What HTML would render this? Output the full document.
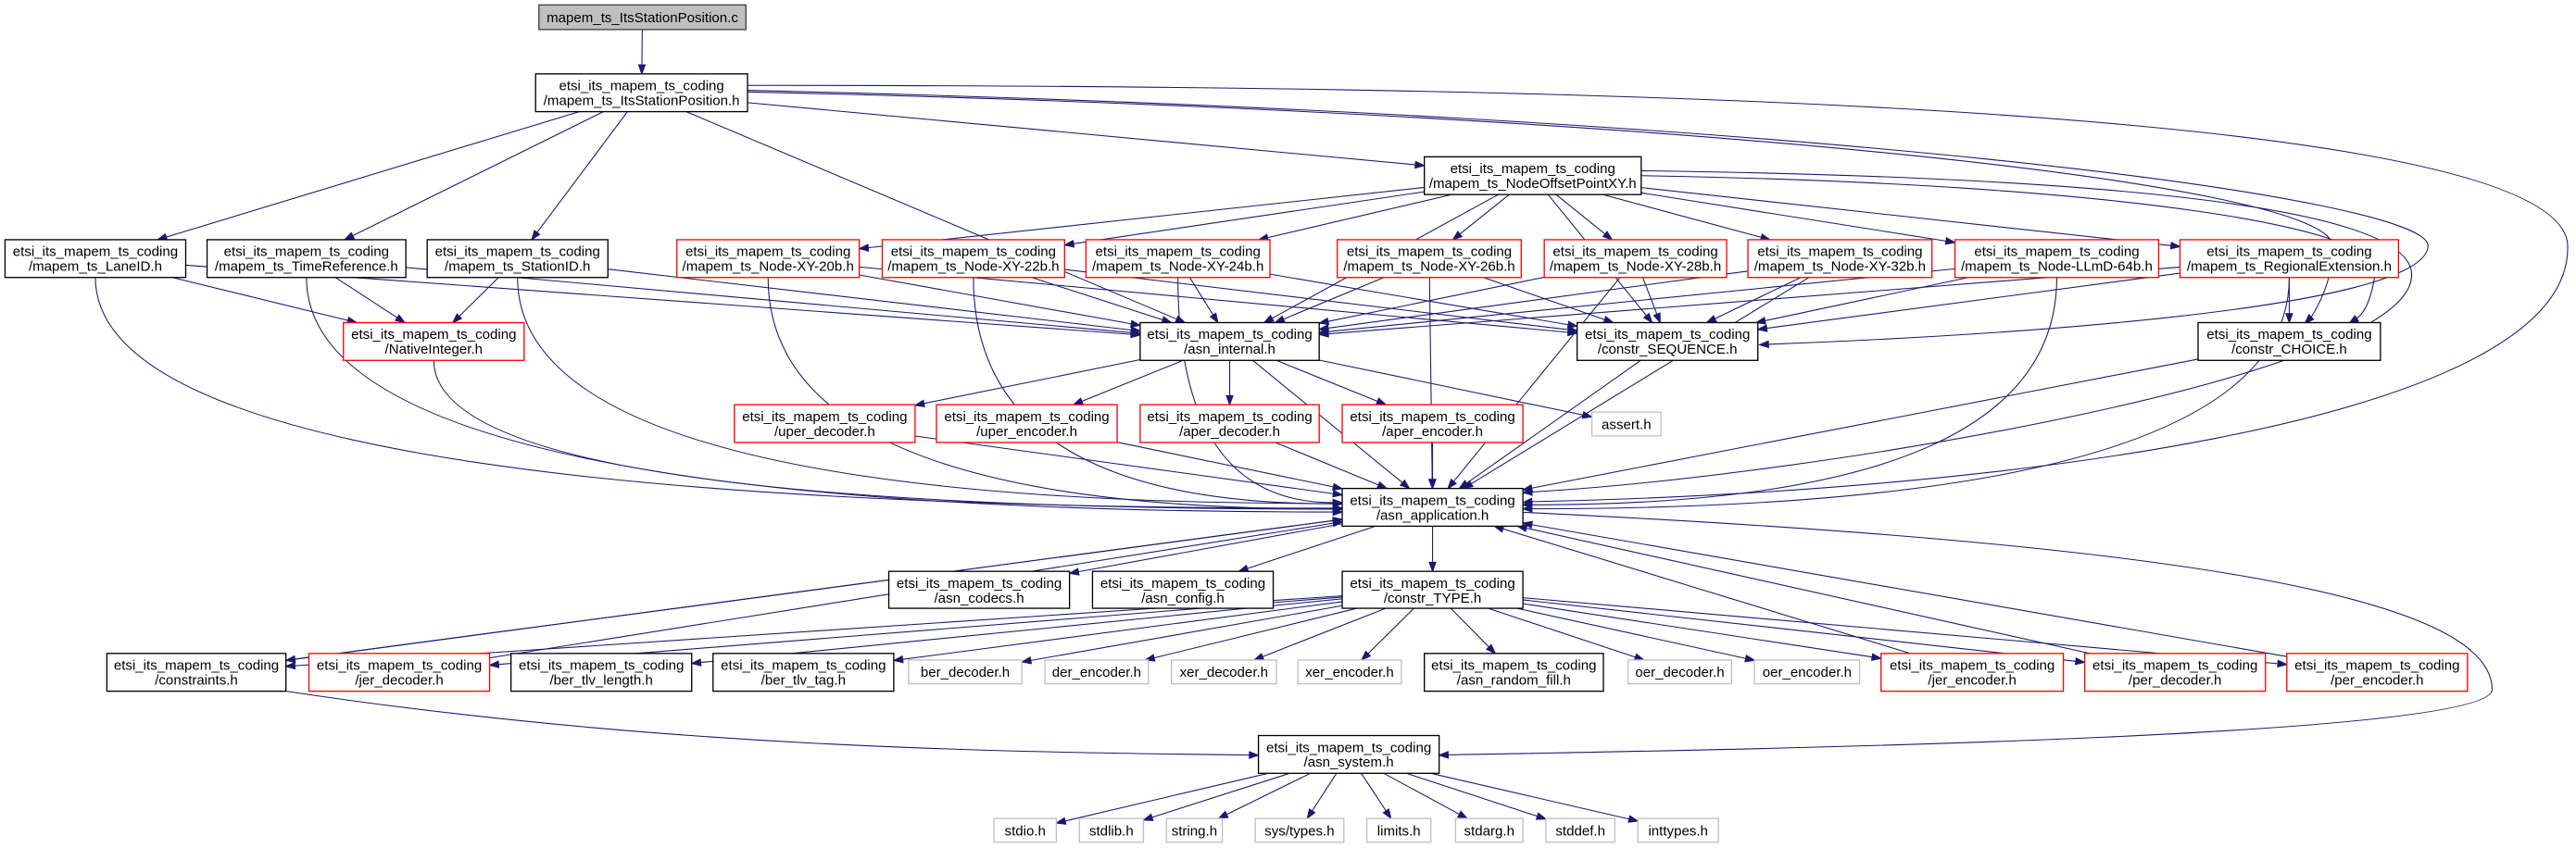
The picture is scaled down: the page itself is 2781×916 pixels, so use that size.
<!DOCTYPE html>
<html><head><meta charset="utf-8">
<style>
html,body{margin:0;padding:0;background:#fff;}
svg{display:block;}
text{font-family:"Liberation Sans",sans-serif;font-size:8.5px;fill:#000;text-anchor:middle;}
.k{fill:#fff;stroke:#000;stroke-width:0.75;}
.r{fill:#fff;stroke:#ff0000;stroke-width:0.75;}
.g{fill:#fff;stroke:#bfbfbf;stroke-width:0.75;}
.e{fill:none;stroke:#191970;stroke-width:0.6;}
.a{fill:#191970;stroke:#191970;stroke-width:0.6;}
</style></head>
<body>
<svg id="s" width="2781" height="916" viewBox="0 0 1568 516.5" xmlns="http://www.w3.org/2000/svg">
<g id="edges"></g>
<g id="nodes">
<rect id="c" x="328" y="3" width="126" height="15" style="fill:#bfbfbf;stroke:#404040;stroke-width:0.75"/><text x="391" y="13.5">mapem_ts_ItsStationPosition.c</text>

<rect id="isp" class="k" x="326" y="45" width="129" height="23"/><text x="390.5" y="55">etsi_its_mapem_ts_coding</text><text x="390.5" y="64">/mapem_ts_ItsStationPosition.h</text>

<rect id="nop" class="k" x="867" y="95.5" width="132" height="23"/><text x="933" y="105.5">etsi_its_mapem_ts_coding</text><text x="933" y="114.5">/mapem_ts_NodeOffsetPointXY.h</text>

<rect id="lane" class="k" x="3" y="146" width="110" height="23"/><text x="58" y="156">etsi_its_mapem_ts_coding</text><text x="58" y="165">/mapem_ts_LaneID.h</text>
<rect id="timeref" class="k" x="126" y="146" width="121" height="23"/><text x="186.5" y="156">etsi_its_mapem_ts_coding</text><text x="186.5" y="165">/mapem_ts_TimeReference.h</text>
<rect id="station" class="k" x="260" y="146" width="110" height="23"/><text x="315" y="156">etsi_its_mapem_ts_coding</text><text x="315" y="165">/mapem_ts_StationID.h</text>
<rect id="n20" class="r" x="412" y="146" width="111" height="23"/><text x="467.5" y="156">etsi_its_mapem_ts_coding</text><text x="467.5" y="165">/mapem_ts_Node-XY-20b.h</text>
<rect id="n22" class="r" x="537" y="146" width="111" height="23"/><text x="592.5" y="156">etsi_its_mapem_ts_coding</text><text x="592.5" y="165">/mapem_ts_Node-XY-22b.h</text>
<rect id="n24" class="r" x="661" y="146" width="112" height="23"/><text x="717" y="156">etsi_its_mapem_ts_coding</text><text x="717" y="165">/mapem_ts_Node-XY-24b.h</text>
<rect id="n26" class="r" x="814" y="146" width="112" height="23"/><text x="870" y="156">etsi_its_mapem_ts_coding</text><text x="870" y="165">/mapem_ts_Node-XY-26b.h</text>
<rect id="n28" class="r" x="940" y="146" width="111" height="23"/><text x="995.5" y="156">etsi_its_mapem_ts_coding</text><text x="995.5" y="165">/mapem_ts_Node-XY-28b.h</text>
<rect id="n32" class="r" x="1064" y="146" width="112" height="23"/><text x="1120" y="156">etsi_its_mapem_ts_coding</text><text x="1120" y="165">/mapem_ts_Node-XY-32b.h</text>
<rect id="llmd" class="r" x="1190" y="146" width="124" height="23"/><text x="1252" y="156">etsi_its_mapem_ts_coding</text><text x="1252" y="165">/mapem_ts_Node-LLmD-64b.h</text>
<rect id="reg" class="r" x="1327" y="146" width="133" height="23"/><text x="1393.5" y="156">etsi_its_mapem_ts_coding</text><text x="1393.5" y="165">/mapem_ts_RegionalExtension.h</text>

<rect id="native" class="r" x="209" y="196.5" width="110" height="23"/><text x="264" y="206.5">etsi_its_mapem_ts_coding</text><text x="264" y="215.5">/NativeInteger.h</text>
<rect id="asnint" class="k" x="694" y="196.5" width="109" height="23"/><text x="748.5" y="206.5">etsi_its_mapem_ts_coding</text><text x="748.5" y="215.5">/asn_internal.h</text>
<rect id="cseq" class="k" x="960" y="196.5" width="110" height="23"/><text x="1015" y="206.5">etsi_its_mapem_ts_coding</text><text x="1015" y="215.5">/constr_SEQUENCE.h</text>
<rect id="cchoice" class="k" x="1338" y="196.5" width="111" height="23"/><text x="1393.5" y="206.5">etsi_its_mapem_ts_coding</text><text x="1393.5" y="215.5">/constr_CHOICE.h</text>

<rect id="uperd" class="r" x="447" y="246.5" width="110" height="23"/><text x="502" y="256.5">etsi_its_mapem_ts_coding</text><text x="502" y="265.5">/uper_decoder.h</text>
<rect id="upere" class="r" x="570" y="246.5" width="110" height="23"/><text x="625" y="256.5">etsi_its_mapem_ts_coding</text><text x="625" y="265.5">/uper_encoder.h</text>
<rect id="aperd" class="r" x="694" y="246.5" width="109" height="23"/><text x="748.5" y="256.5">etsi_its_mapem_ts_coding</text><text x="748.5" y="265.5">/aper_decoder.h</text>
<rect id="apere" class="r" x="817" y="246.5" width="110" height="23"/><text x="872" y="256.5">etsi_its_mapem_ts_coding</text><text x="872" y="265.5">/aper_encoder.h</text>
<rect id="assert" class="g" x="969" y="251" width="42" height="14.5"/><text x="990" y="261.3">assert.h</text>

<rect id="app" class="k" x="817" y="297.5" width="110" height="23"/><text x="872" y="307.5">etsi_its_mapem_ts_coding</text><text x="872" y="316.5">/asn_application.h</text>

<rect id="codecs" class="k" x="541" y="348" width="110" height="22.5"/><text x="596" y="358">etsi_its_mapem_ts_coding</text><text x="596" y="367">/asn_codecs.h</text>
<rect id="config" class="k" x="665" y="348" width="110" height="22.5"/><text x="720" y="358">etsi_its_mapem_ts_coding</text><text x="720" y="367">/asn_config.h</text>
<rect id="ctype" class="k" x="817" y="348" width="110" height="22.5"/><text x="872" y="358">etsi_its_mapem_ts_coding</text><text x="872" y="367">/constr_TYPE.h</text>

<rect id="constraints" class="k" x="65" y="398" width="109" height="23"/><text x="119.5" y="408">etsi_its_mapem_ts_coding</text><text x="119.5" y="417">/constraints.h</text>
<rect id="jerd" class="r" x="188" y="398" width="110" height="23"/><text x="243" y="408">etsi_its_mapem_ts_coding</text><text x="243" y="417">/jer_decoder.h</text>
<rect id="bertl" class="k" x="311" y="398" width="110" height="23"/><text x="366" y="408">etsi_its_mapem_ts_coding</text><text x="366" y="417">/ber_tlv_length.h</text>
<rect id="bertag" class="k" x="434" y="398" width="110" height="23"/><text x="489" y="408">etsi_its_mapem_ts_coding</text><text x="489" y="417">/ber_tlv_tag.h</text>
<rect id="berdec" class="g" x="553" y="402" width="69" height="14.5"/><text x="587.5" y="412.3">ber_decoder.h</text>
<rect id="derenc" class="g" x="636" y="402" width="63" height="14.5"/><text x="667.5" y="412.3">der_encoder.h</text>
<rect id="xerdec" class="g" x="713" y="402" width="64" height="14.5"/><text x="745" y="412.3">xer_decoder.h</text>
<rect id="xerenc" class="g" x="790" y="402" width="63" height="14.5"/><text x="821.5" y="412.3">xer_encoder.h</text>
<rect id="rand" class="k" x="867" y="398" width="109" height="23"/><text x="921.5" y="408">etsi_its_mapem_ts_coding</text><text x="921.5" y="417">/asn_random_fill.h</text>
<rect id="oerdec" class="g" x="991" y="402" width="63" height="14.5"/><text x="1022.5" y="412.3">oer_decoder.h</text>
<rect id="oerenc" class="g" x="1068" y="402" width="64" height="14.5"/><text x="1100" y="412.3">oer_encoder.h</text>
<rect id="jere" class="r" x="1145" y="398" width="111" height="23"/><text x="1200.5" y="408">etsi_its_mapem_ts_coding</text><text x="1200.5" y="417">/jer_encoder.h</text>
<rect id="perd" class="r" x="1269" y="398" width="110" height="23"/><text x="1324" y="408">etsi_its_mapem_ts_coding</text><text x="1324" y="417">/per_decoder.h</text>
<rect id="pere" class="r" x="1392" y="398" width="110" height="23"/><text x="1447" y="408">etsi_its_mapem_ts_coding</text><text x="1447" y="417">/per_encoder.h</text>

<rect id="sys" class="k" x="766" y="448" width="110" height="23"/><text x="821" y="458">etsi_its_mapem_ts_coding</text><text x="821" y="467">/asn_system.h</text>

<rect id="stdio" class="g" x="605" y="498.5" width="38" height="14.5"/><text x="624" y="508.8">stdio.h</text>
<rect id="stdlib" class="g" x="657" y="498.5" width="39" height="14.5"/><text x="676.5" y="508.8">stdlib.h</text>
<rect id="string" class="g" x="710" y="498.5" width="34" height="14.5"/><text x="727" y="508.8">string.h</text>
<rect id="systypes" class="g" x="764" y="498.5" width="54" height="14.5"/><text x="791" y="508.8">sys/types.h</text>
<rect id="limits" class="g" x="832" y="498.5" width="39" height="14.5"/><text x="851.5" y="508.8">limits.h</text>
<rect id="stdarg" class="g" x="886" y="498.5" width="41" height="14.5"/><text x="906.5" y="508.8">stdarg.h</text>
<rect id="stddef" class="g" x="941" y="498.5" width="42" height="14.5"/><text x="962" y="508.8">stddef.h</text>
<rect id="inttypes" class="g" x="997" y="498.5" width="49" height="14.5"/><text x="1021.5" y="508.8">inttypes.h</text>
</g>
</svg>
<script>
(function(){
var NS="http://www.w3.org/2000/svg",G=document.getElementById("edges");
function box(id){var r=document.getElementById(id);var x=+r.getAttribute("x"),y=+r.getAttribute("y"),w=+r.getAttribute("width"),h=+r.getAttribute("height");return{cx:x+w/2,cy:y+h/2,hw:w/2,hh:h/2,x:x,y:y,w:w,h:h};}
function clip(b,tx,ty){var dx=tx-b.cx,dy=ty-b.cy;var t=Math.min(dx?b.hw/Math.abs(dx):1e9,dy?b.hh/Math.abs(dy):1e9);return[b.cx+dx*t,b.cy+dy*t];}
function arrow(px,py,ex,ey){var dx=ex-px,dy=ey-py,l=Math.sqrt(dx*dx+dy*dy)||1;dx/=l;dy/=l;var L=5.5,W=2;var bx=ex-dx*L,by=ey-dy*L;var p=document.createElementNS(NS,"polygon");p.setAttribute("points",ex+","+ey+" "+(bx-dy*W)+","+(by+dx*W)+" "+(bx+dy*W)+","+(by-dx*W));p.setAttribute("class","a");G.appendChild(p);return[bx,by];}
function path(d){var p=document.createElementNS(NS,"path");p.setAttribute("d",d);p.setAttribute("class","e");G.appendChild(p);}
function E(s,t){var a=box(s),b=box(t);var p=clip(a,b.cx,b.cy),q=clip(b,a.cx,a.cy);var k=arrow(p[0],p[1],q[0],q[1]);path("M"+p[0]+","+p[1]+"L"+k[0]+","+k[1]);}
function Q(s,t){var a=box(s),b=box(t);var sx=a.cx,sy=a.y+a.h;var left=a.cx<b.cx;var ex=left?b.x:b.x+b.w,ey=b.cy-3+Math.random()*6;var cx=sx,cy=ey;var k=arrow(cx+(ex-cx)*0.9,cy+(ey-cy)*0.9,ex,ey);path("M"+sx+","+sy+" Q"+cx+","+cy+" "+k[0]+","+k[1]);}
function C(d,px,py,ex,ey){var k=arrow(px,py,ex,ey);path(d+" "+k[0]+","+k[1]);}
var L=[["c","isp"],["isp","lane"],["isp","timeref"],["isp","station"],["isp","nop"],["isp","asnint"],
["lane","native"],["lane","asnint"],["timeref","native"],["timeref","asnint"],
["station","native"],["station","asnint"],
["nop","n20"],["nop","n22"],["nop","n24"],["nop","n26"],["nop","n28"],["nop","n32"],["nop","llmd"],["nop","reg"],["nop","asnint"],["nop","cseq"],
["reg","cchoice"],["cchoice","app"],["cseq","app"],
["asnint","uperd"],["asnint","upere"],["asnint","aperd"],["asnint","apere"],["asnint","assert"],["asnint","app"],
["uperd","app"],["upere","app"],["aperd","app"],["apere","app"],
["app","codecs"],["app","config"],["app","ctype"],["app","constraints"],
["constraints","app"],["jerd","app"],["jere","app"],["perd","app"],["pere","app"]];
["n20","n22","n24","n26","n28","n32","llmd","reg"].forEach(function(n){L.push([n,"asnint"]);L.push([n,"cseq"]);});
["constraints","jerd","bertl","bertag","berdec","derenc","xerdec","xerenc","rand","oerdec","oerenc","jere","perd","pere"].forEach(function(n){L.push(["ctype",n]);});
["stdio","stdlib","string","systypes","limits","stdarg","stddef","inttypes"].forEach(function(n){L.push(["sys",n]);});
L.forEach(function(e){E(e[0],e[1]);});
["lane","timeref","station","native","n20","n22","n24","llmd","reg"].forEach(function(n){Q(n,"app");});
["n26","n28","n32"].forEach(function(n){E(n,"app");});
C("M455,52 C900,52 1562,60 1563,150 C1565,260 1200,300",1000,300,927,306);
C("M455,56 C1000,68 1420,110 1420,150 C1420,170 1412,185",1410,190,1403,197);
C("M455,55 C1100,70 1480,120 1478,150 C1475,190 1200,205",1090,209,1071,210);
C("M999,104 C1300,108 1470,128 1468,168 C1466,230 1100,290",990,296,927,300);
C("M999,107 C1300,112 1450,140 1446,165 C1444,180 1440,190",1436,193,1430,197);
C("M927,312 C1300,330 1517,360 1517,420 C1517,448 1100,456",900,459,876,460);
C("M174,421 C400,455 600,458",740,459.5,766,460);
})();
</script>
</body></html>
